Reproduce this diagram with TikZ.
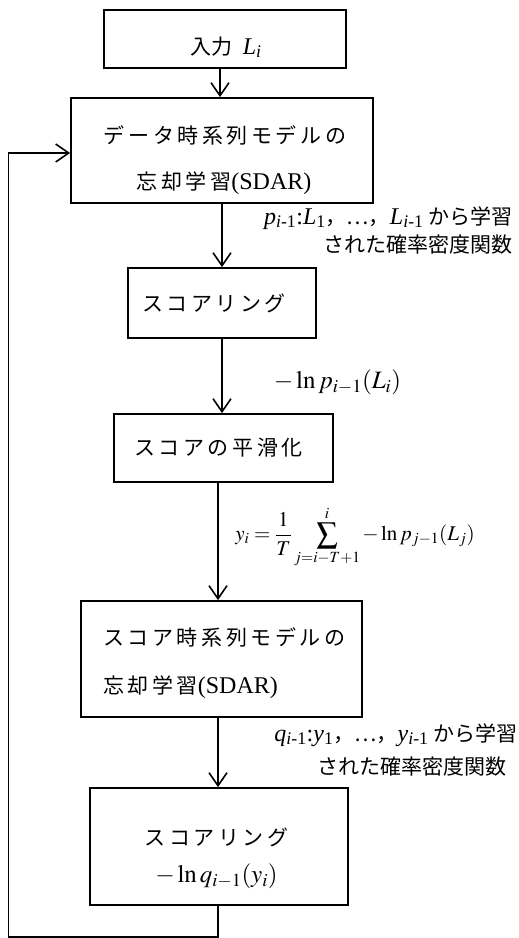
\documentclass[tikz,border=0pt]{standalone}
\usepackage{mathptmx}
\usepackage{fontspec}
\setmainfont{Liberation Serif}
\newfontfamily\cjk{Noto Sans CJK JP}
\newfontfamily\cjkw[LetterSpace=17]{Noto Sans CJK JP}
\newcommand{\lat}[1]{{\fontsize{24}{28}\selectfont #1}}
\usetikzlibrary{arrows.meta}
\tikzset{
  box/.style={draw, line width=1.8pt, inner sep=0pt},
  arr/.style={line width=1.6pt, -{Straight Barb[length=13pt,width=18pt,line width=1.6pt]}},
  txt/.style={inner sep=0pt, font=\fontsize{21}{25}\selectfont},
  lbl/.style={inner sep=0pt, font=\fontsize{21}{25}\selectfont},
}
\begin{document}
\begin{tikzpicture}[x=1pt,y=-1pt]
\useasboundingbox (0,0) rectangle (519,938);
% boxes
\node[box, minimum width=242pt, minimum height=58pt] (b1) at (225,39) {};
\node[box, minimum width=302pt, minimum height=105pt] (b2) at (222,150.5) {};
\node[box, minimum width=188pt, minimum height=70pt] (b3) at (222,303) {};
\node[box, minimum width=219pt, minimum height=68pt] (b4) at (223.5,448) {};
\node[box, minimum width=281pt, minimum height=116pt] (b5) at (221.5,659) {};
\node[box, minimum width=258pt, minimum height=117pt] (b6) at (219,846.5) {};
% box texts
\node[txt] (t1) at (226,47) {{\cjk 入力}\ \ \lat{\textit{L}\textsubscript{\textit{i}}}};
\node[txt] (t2a) at (225,135) {\cjkw データ時系列モデルの};
\node[txt] (t2b) at (224,183) {{\cjkw 忘却学習}\lat{(SDAR)}};
\node[txt] (t3) at (214,303) {\cjkw スコアリング};
\node[txt] (t4) at (218.5,448) {\cjkw スコアの平滑化};
\node[txt, anchor=west] (t5a) at (103,637) {\cjkw スコア時系列モデルの};
\node[txt, anchor=west] (t5b) at (103,687) {{\cjkw 忘却学習}\lat{(SDAR)}};
\node[txt] (t6a) at (216.5,837) {\cjkw スコアリング};
\node[txt, font=\fontsize{25}{29}\selectfont] (t6b) at (216.5,876) {$-\ln q_{i-1}(y_i)$};
% arrow x positions
\coordinate (x1) at (220,0);
\coordinate (x2) at (222,0);
\coordinate (x4) at (218,0);
\coordinate (lb) at (8.5,937);
\coordinate (lt) at (8.5,153);
\draw[arr] (x1 |- b1.south) -- (x1 |- b2.north);
\draw[arr] (x2 |- b2.south) -- (x2 |- b3.north);
\draw[arr] (x2 |- b3.south) -- (x2 |- b4.north);
\draw[arr] (x4 |- b4.south) -- (x4 |- b5.north);
\draw[arr] (x4 |- b5.south) -- (x4 |- b6.north);
\draw[arr] (x4 |- b6.south) -- (x4 |- lb) -- (lb) -- (lt) -- (lt -| b2.west);
% labels
\node[lbl, anchor=east] (l1a) at (513,218) {\lat{\textit{p}\textsubscript{\textit{i}-1}:\textit{L}\textsubscript{1}}{\cjk ，…，}\lat{\textit{L}\textsubscript{\textit{i}-1}} {\cjk から学習}};
\node[lbl, anchor=east] (l1b) at (513,245) {\cjk された確率密度関数};
\node[lbl, font=\fontsize{25}{29}\selectfont] (l2) at (337.5,382) {$-\ln p_{i-1}(L_i)$};
\node[lbl, font=\fontsize{21}{25}\selectfont] (l3) at (355,537) {$\displaystyle y_i=\frac{1}{T}\sum_{j=i-T+1}^{i}-\ln p_{j-1}(L_j)$};
\node[lbl, anchor=east] (l4a) at (518,735) {\lat{\textit{q}\textsubscript{\textit{i}-1}:\textit{y}\textsubscript{1}}{\cjk ，…，}\lat{\textit{y}\textsubscript{\textit{i}-1}} {\cjk から学習}};
\node[lbl, anchor=east] (l4b) at (507,767) {\cjk された確率密度関数};
\end{tikzpicture}
\end{document}
